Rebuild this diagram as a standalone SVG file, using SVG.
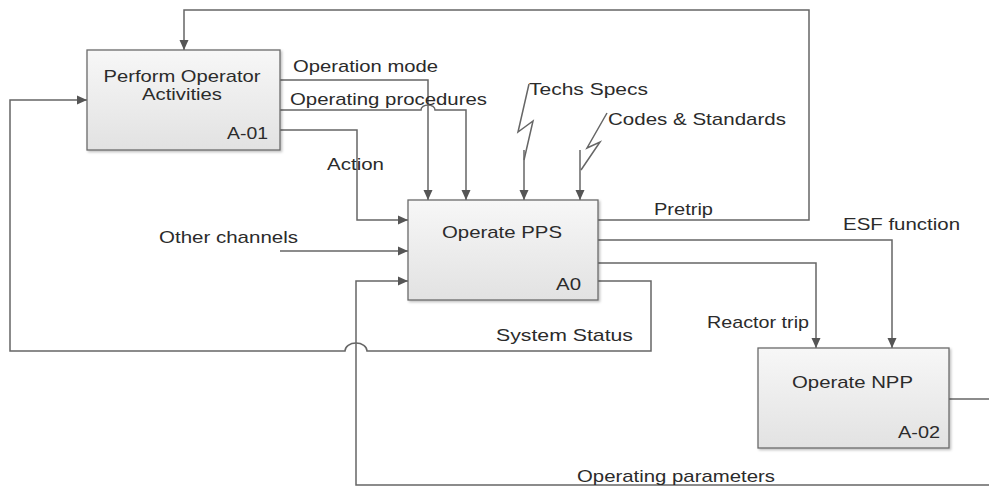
<svg xmlns="http://www.w3.org/2000/svg" width="989" height="487" viewBox="0 0 989 487">
  <defs>
    <linearGradient id="boxFill" x1="0" y1="0" x2="0" y2="1">
      <stop offset="0" stop-color="#f7f7f7"/>
      <stop offset="1" stop-color="#e2e2e2"/>
    </linearGradient>
    <filter id="shadow" x="-10%" y="-10%" width="120%" height="120%">
      <feDropShadow dx="1.5" dy="1.5" stdDeviation="1.2" flood-color="#000" flood-opacity="0.25"/>
    </filter>
    <marker id="arrow" viewBox="0 0 10 10" refX="10" refY="5" markerWidth="10" markerHeight="10" markerUnits="userSpaceOnUse" orient="auto">
      <path d="M0,0.5 L10,5 L0,9.5 z" fill="#555"/>
    </marker>
    <style>
      .box { fill: url(#boxFill); stroke: #6a6a6a; stroke-width: 1.3; filter: url(#shadow); }
      .wire { fill: none; stroke: #666; stroke-width: 1.5; }
      .arr { marker-end: url(#arrow); }
      text { font-family: "Liberation Sans", Arial, sans-serif; font-size: 17px; fill: #2b2b2b; }
      .mid { text-anchor: middle; }
    </style>
  </defs>

  <rect width="989" height="487" fill="#ffffff"/>

  <!-- connectors -->
  <g id="connectors">
    <!-- Pretrip feedback to operator -->
    <path class="wire arr" d="M598,220 H809 V10 H184 V50"/>
    <!-- Operation mode -->
    <path class="wire arr" d="M280,80 H428 V200"/>
    <!-- Operating procedures (hops over operation mode) -->
    <path class="wire arr" d="M280,110 H421 A7 5 0 0 1 435,110 H466 V200"/>
    <!-- Action -->
    <path class="wire arr" d="M280,130 H357 V220 H408"/>
    <!-- Techs Specs squiggle -->
    <path class="wire" d="M529,84 L518,132 L533,121 L524,160"/>
    <path class="wire arr" d="M524,150 V200"/>
    <!-- Codes & Standards squiggle -->
    <path class="wire" d="M607,113 L587,148 L600,142 L581,170"/>
    <path class="wire arr" d="M580,150 V200"/>
    <!-- Other channels -->
    <path class="wire arr" d="M280,251 H408"/>
    <!-- ESF function -->
    <path class="wire arr" d="M598,240 H892 V348"/>
    <!-- Reactor trip -->
    <path class="wire arr" d="M598,263 H816 V348"/>
    <!-- System Status back to operator (hops over operating parameters) -->
    <path class="wire arr" d="M598,281 H651 V351 H367 A11 8 0 0 0 345,351 H10 V100 H87"/>
    <!-- Operating parameters from plant back to PPS -->
    <path class="wire" d="M949,399 H995"/>
    <path class="wire arr" d="M995,485 H356 V281 H408"/>
  </g>

  <!-- node A-01 -->
  <g id="node-a01">
    <rect class="box" x="87" y="50" width="193" height="100"/>
    <text class="mid" x="182" y="82" textLength="157" lengthAdjust="spacingAndGlyphs">Perform Operator</text>
    <text class="mid" x="182" y="100" textLength="80" lengthAdjust="spacingAndGlyphs">Activities</text>
    <text x="227" y="139" textLength="41" lengthAdjust="spacingAndGlyphs">A-01</text>
  </g>

  <!-- node A0 -->
  <g id="node-a0">
    <rect class="box" x="408" y="200" width="190" height="100"/>
    <text x="442" y="238" textLength="120" lengthAdjust="spacingAndGlyphs">Operate PPS</text>
    <text x="556" y="290" textLength="25" lengthAdjust="spacingAndGlyphs">A0</text>
  </g>

  <!-- node A-02 -->
  <g id="node-a02">
    <rect class="box" x="758" y="348" width="191" height="100"/>
    <text x="792" y="388" textLength="121" lengthAdjust="spacingAndGlyphs">Operate NPP</text>
    <text x="898" y="438" textLength="42" lengthAdjust="spacingAndGlyphs">A-02</text>
  </g>

  <!-- connector labels -->
  <g id="labels">
    <text x="293" y="72" textLength="145" lengthAdjust="spacingAndGlyphs">Operation mode</text>
    <text x="290" y="105" textLength="197" lengthAdjust="spacingAndGlyphs">Operating procedures</text>
    <text x="327" y="170" textLength="57" lengthAdjust="spacingAndGlyphs">Action</text>
    <text x="529" y="95" textLength="119" lengthAdjust="spacingAndGlyphs">Techs Specs</text>
    <text x="608" y="125" textLength="178" lengthAdjust="spacingAndGlyphs">Codes &amp; Standards</text>
    <text x="654" y="215" textLength="59" lengthAdjust="spacingAndGlyphs">Pretrip</text>
    <text x="159" y="243" textLength="139" lengthAdjust="spacingAndGlyphs">Other channels</text>
    <text x="843" y="230" textLength="117" lengthAdjust="spacingAndGlyphs">ESF function</text>
    <text x="707" y="328" textLength="102" lengthAdjust="spacingAndGlyphs">Reactor trip</text>
    <text x="496" y="341" textLength="137" lengthAdjust="spacingAndGlyphs">System Status</text>
    <text x="577" y="482" textLength="198" lengthAdjust="spacingAndGlyphs">Operating parameters</text>
  </g>
</svg>
